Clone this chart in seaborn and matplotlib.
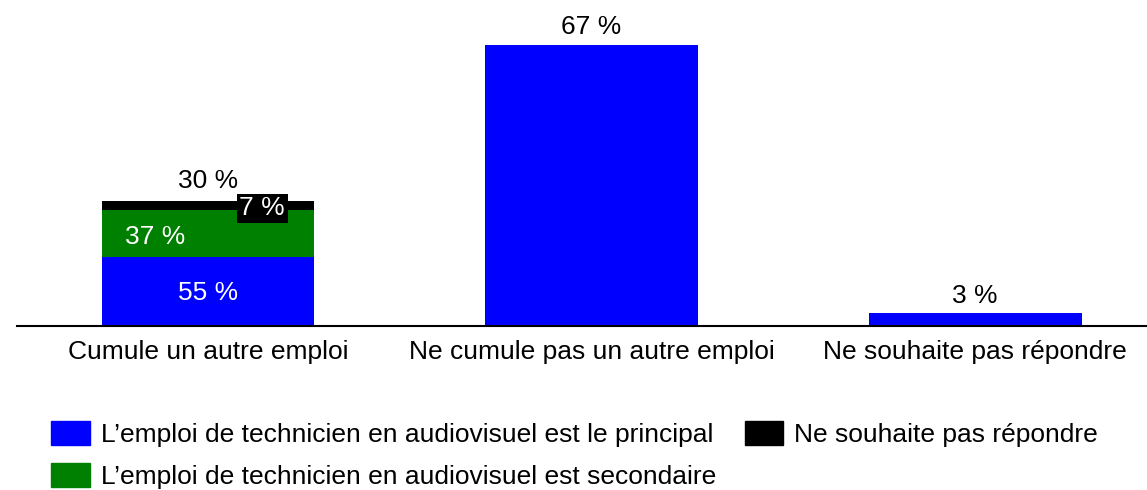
import matplotlib
matplotlib.use("Agg")
import matplotlib.pyplot as plt
from matplotlib.patches import Patch
import seaborn as sns
import pandas as pd
import numpy as np

categories = ["Cumule un autre emploi", "Ne cumule pas un autre emploi", "Ne souhaite pas répondre"]
totals = [30, 67, 3]
split_labels = ["L\u2019emploi de technicien en audiovisuel est le principal",
                "L\u2019emploi de technicien en audiovisuel est secondaire",
                "Ne souhaite pas répondre"]
split_pct = [55, 37, 7]   # share of the "Cumule" group

BLUE, GREEN, BLACK = "#0000FF", "#008000", "#000000"

sns.set_theme(style="white")
plt.rcParams['font.family'] = ['Liberation Sans', 'DejaVu Sans']
plt.rcParams['text.color'] = 'black'
plt.rcParams['legend.labelcolor'] = 'black'

fig = plt.figure(figsize=(11.47, 4.90), dpi=100)
ax = fig.add_axes([17/1147, (490-326)/490, 1 - 17/1147, 326/490])

seg = [totals[0] * p / 100 for p in split_pct]
cum_blue = seg[0]
cum_green = seg[0] + seg[1]
cum_black = seg[0] + seg[1] + seg[2]

W = 0.555
df_black = pd.DataFrame({"cat": categories, "v": [cum_black, 0, 0]})
df_green = pd.DataFrame({"cat": categories, "v": [cum_green, 0, 0]})
df_blue = pd.DataFrame({"cat": categories, "v": [cum_blue, totals[1], totals[2]]})
for d, c in [(df_black, BLACK), (df_green, GREEN), (df_blue, BLUE)]:
    sns.barplot(data=d, x="cat", y="v", color=c, width=W, ax=ax,
                saturation=1, linewidth=0, errorbar=None, order=categories)

ax.set_xlim(-0.498, 2.448)
ax.set_ylim(0, 326/4.194)
ax.set_xlabel("")
ax.set_ylabel("")
ax.set_yticks([])
for s in ["top", "left", "right"]:
    ax.spines[s].set_visible(False)
ax.spines["bottom"].set_color("black")
ax.spines["bottom"].set_linewidth(1.5)
ax.tick_params(axis="x", length=0, labelsize=19, pad=10, colors="black")

fs = 19
# totals above bars
ax.text(0, cum_black + 3.1, f"{totals[0]} %", ha="center", va="baseline", fontsize=fs, color="black")
ax.text(1, totals[1] + 2.6, f"{totals[1]} %", ha="center", va="baseline", fontsize=fs, color="black")
ax.text(2, totals[2] + 2.4, f"{totals[2]} %", ha="center", va="baseline", fontsize=fs, color="black")
# segment labels
ax.text(0, seg[0] / 2 - 0.3, f"{split_pct[0]} %", ha="center", va="center", fontsize=fs, color="white")
ax.text(-0.139, seg[0] + seg[1] / 2 - 0.8, f"{split_pct[1]} %", ha="center", va="center", fontsize=fs, color="white")
ax.text(0.141, 28.1, f"{split_pct[2]} %", ha="center", va="center", fontsize=fs, color="white",
        bbox=dict(boxstyle="square,pad=0.1", fc="black", ec="none"))

handles = [Patch(color=BLUE), Patch(color=GREEN), Patch(color=BLACK)]
fig.legend(handles, split_labels, ncol=2, loc="upper left", bbox_to_anchor=(51/1147, 1 - 421/490),
           frameon=False, fontsize=19, handlelength=1.46, handleheight=1.04, handletextpad=0.42,
           columnspacing=1.1, labelspacing=0.6, borderpad=0, borderaxespad=0, labelcolor="black")

fig.savefig("out.png", dpi=100)
